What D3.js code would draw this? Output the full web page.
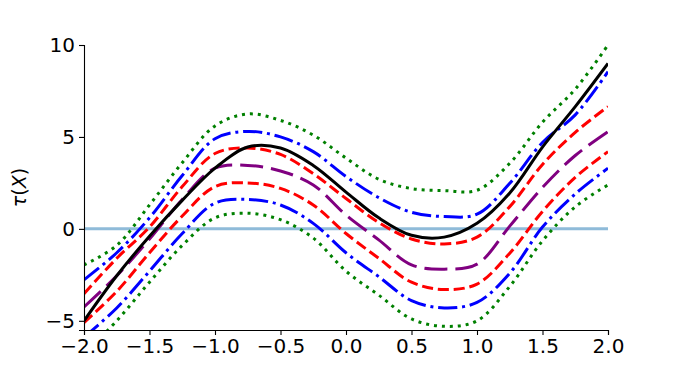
<!DOCTYPE html>
<html>
<head>
<meta charset="utf-8">
<script src="https://cdn.jsdelivr.net/npm/d3@7"></script>
<style>
  html, body { margin: 0; padding: 0; background: #fff; }
  svg { display: block; }
  text { font-family: "DejaVu Sans", sans-serif; }
</style>
</head>
<body>
<svg id="chart" width="676" height="377"></svg>
<script>
// ---- data ----
const xs = [-2.0, -1.75, -1.5, -1.25, -1.0, -0.75, -0.5, -0.25, 0.0, 0.25, 0.5, 0.75, 1.0, 1.25, 1.5, 1.75, 2.0];

const trueTau    = [-5.0, -2.55, -0.4, 1.55, 3.3, 4.45, 4.4, 3.45, 2.0, 0.6, -0.35, -0.45, 0.3, 1.95, 4.45, 6.65, 9.0];
const estimate   = [-4.25, -2.55, -0.55, 1.6, 3.3, 3.45, 3.15, 2.39, 0.75, -0.6, -1.96, -2.19, -1.92, 0.15, 2.25, 3.99, 5.29];
const upper50    = [-3.53, -1.6, 0.1, 2.3, 4.1, 4.4, 4.05, 3.0, 1.65, 0.35, -0.55, -0.82, -0.45, 1.21, 3.5, 5.25, 6.65];
const lower50    = [-5.1, -3.4, -1.3, 0.7, 2.3, 2.5, 2.2, 1.3, -0.25, -1.6, -2.9, -3.3, -3.0, -1.32, 0.95, 2.8, 4.2];
const upper80    = [-2.77, -1.3, 0.6, 2.9, 4.9, 5.3, 5.0, 4.2, 2.85, 1.7, 0.9, 0.67, 0.8, 2.48, 4.7, 6.2, 8.55];
const lower80    = [-5.9, -4.3, -2.3, -0.25, 1.4, 1.6, 1.3, 0.3, -1.3, -2.6, -3.9, -4.3, -4.0, -2.41, 0.1, 1.9, 3.3];
const upper95    = [-1.96, -0.9, 1.3, 3.6, 5.6, 6.25, 5.9, 5.1, 3.85, 2.7, 2.19, 2.08, 2.1, 3.57, 5.8, 7.6, 10.0];
const lower95    = [-6.8, -5.0, -2.9, -0.9, 0.6, 0.85, 0.5, -0.5, -2.3, -3.6, -4.9, -5.3, -5.0, -3.13, -0.65, 1.2, 2.39];

const xTicks = [-2.0, -1.5, -1.0, -0.5, 0.0, 0.5, 1.0, 1.5, 2.0];
const yTicks = [-5, 0, 5, 10];
const xDomain = [-2, 2];
const yDomain = [-5.5, 10];

// ---- drawing ----
const svg = d3.select("#chart");
const mLeft = 84, mRight = 608, mTop = 45, mBottom = 330;

const x = d3.scaleLinear().domain(xDomain).range([mLeft, mRight]);
const y = d3.scaleLinear().domain(yDomain).range([mBottom, mTop]);

svg.append("defs").append("clipPath").attr("id", "plotclip")
  .append("rect").attr("x", mLeft).attr("y", mTop).attr("width", mRight - mLeft).attr("height", mBottom - mTop);

const plot = svg.append("g").attr("clip-path", "url(#plotclip)");

// horizontal zero line
plot.append("line")
  .attr("x1", x(xDomain[0])).attr("x2", x(xDomain[1]))
  .attr("y1", y(0)).attr("y2", y(0))
  .attr("stroke", "#8fbbd9").attr("stroke-width", 3);

const line = d3.line().x((d, i) => x(xs[i])).y(d => y(d)).curve(d3.curveCatmullRom.alpha(0.5));

const series = [
  { v: upper95, color: "green",  dash: "3,4.95" },
  { v: lower95, color: "green",  dash: "3,4.95" },
  { v: upper80, color: "blue",   dash: "19.2,4.8,3,4.8" },
  { v: lower80, color: "blue",   dash: "19.2,4.8,3,4.8" },
  { v: upper50, color: "red",    dash: "11.1,4.8" },
  { v: lower50, color: "red",    dash: "11.1,4.8" },
  { v: estimate, color: "purple", dash: "23,8" },
  { v: trueTau, color: "black",  dash: null }
];

series.forEach(s => {
  plot.append("path")
    .attr("d", line(s.v))
    .attr("fill", "none")
    .attr("stroke", s.color)
    .attr("stroke-width", 3)
    .attr("stroke-linecap", "butt")
    .attr("stroke-dasharray", s.dash);
});

// axes
const fmtX = d => d3.format(".1f")(d).replace("-", "\u2212");
const fmtY = d => String(d).replace("-", "\u2212");

const xAxis = svg.append("g").attr("transform", `translate(0,${mBottom})`)
  .call(d3.axisBottom(x).tickValues(xTicks).tickFormat(fmtX).tickSize(5).tickPadding(4));
const yAxis = svg.append("g").attr("transform", `translate(${mLeft},0)`)
  .call(d3.axisLeft(y).tickValues(yTicks).tickFormat(fmtY).tickSize(5).tickPadding(4));

[xAxis, yAxis].forEach(a => {
  a.select(".domain").attr("stroke", "#000").attr("stroke-width", 1.1);
  a.selectAll(".tick line").attr("stroke", "#000").attr("stroke-width", 1.1);
  a.selectAll(".tick text").attr("fill", "#000")
    .style("font-family", "'DejaVu Sans', sans-serif").style("font-size", "20px");
});

// y label
const yl = svg.append("text")
  .attr("transform", `translate(26,${(mTop + mBottom) / 2}) rotate(-90)`)
  .attr("text-anchor", "middle")
  .style("font-size", "19px");
yl.append("tspan").style("font-style", "italic").text("\u03C4");
yl.append("tspan").text("(");
yl.append("tspan").style("font-style", "italic").text("X");
yl.append("tspan").text(")");
</script>
</body>
</html>
